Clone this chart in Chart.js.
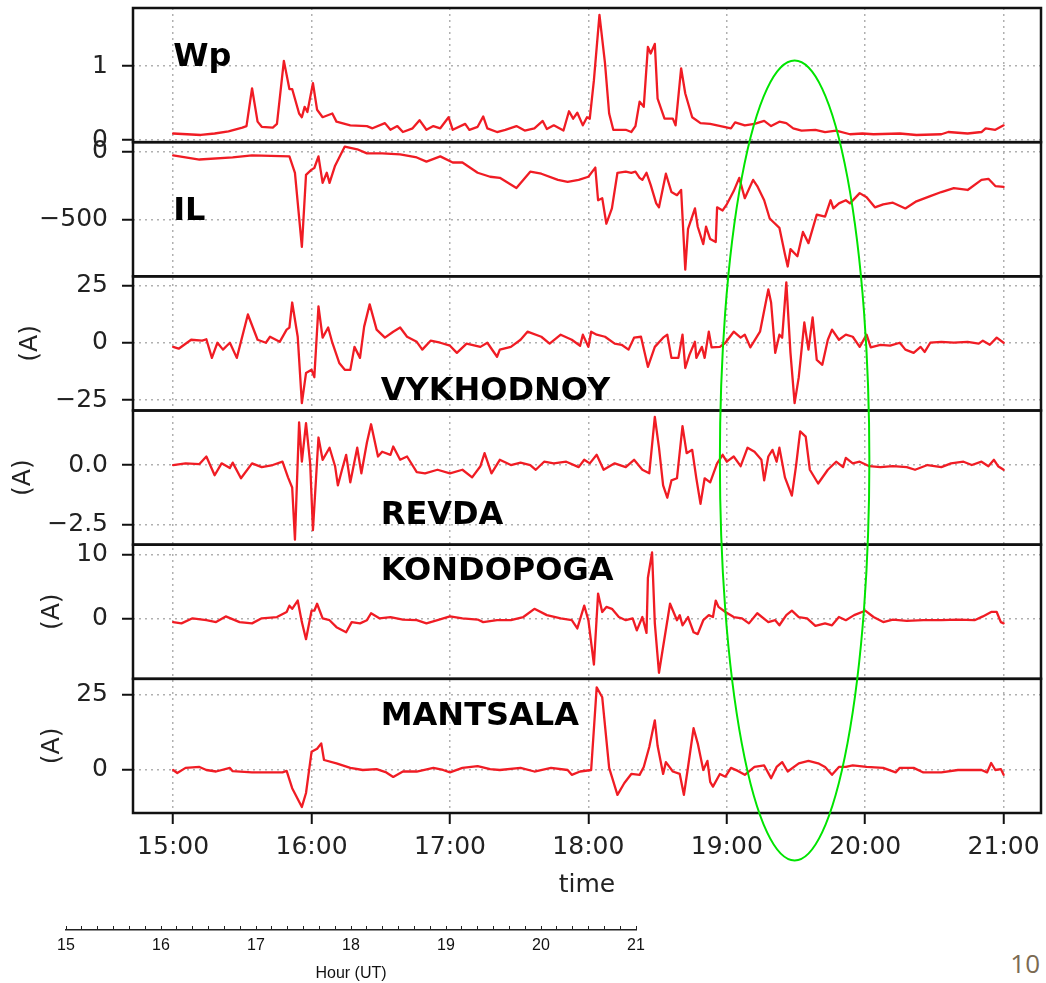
<!DOCTYPE html>
<html>
<head>
<meta charset="utf-8">
<script src="https://cdn.jsdelivr.net/npm/chart.js@4.4.1/dist/chart.umd.min.js"></script>
<style>
  html, body { margin: 0; padding: 0; background: #fff; }
  #wrap { position: relative; width: 1046px; height: 983px; overflow: hidden; }
  .box { position: absolute; left: 0; }
  #page { position: absolute; right: 6px; top: 950px; font: 26px "Open Sans"; line-height: 26px; color: #7b6a52; }
</style>
</head>
<body>
<div id="wrap">
  <div class="box" style="top:0;width:1046px;height:910px"><canvas id="main"></canvas></div>
  <div class="box" style="top:918px;width:700px;height:65px"><canvas id="hours"></canvas></div>
  <div id="page">10</div>
</div>
<script>
// time in decimal hours UT, value per station
const wp = [[15.00,0.09],[15.10,0.08],[15.20,0.07],[15.30,0.09],[15.40,0.12],[15.50,0.17],[15.53,0.19],[15.57,0.70],[15.61,0.25],[15.64,0.18],[15.72,0.17],[15.75,0.22],[15.80,1.07],[15.84,0.69],[15.86,0.69],[15.91,0.36],[15.93,0.31],[15.95,0.45],[15.97,0.38],[16.01,0.77],[16.04,0.41],[16.08,0.31],[16.15,0.36],[16.18,0.25],[16.28,0.20],[16.40,0.19],[16.44,0.16],[16.53,0.23],[16.57,0.14],[16.62,0.19],[16.66,0.11],[16.73,0.16],[16.78,0.27],[16.83,0.14],[16.88,0.19],[16.93,0.16],[16.99,0.31],[17.02,0.14],[17.11,0.22],[17.14,0.14],[17.20,0.18],[17.24,0.32],[17.27,0.16],[17.34,0.11],[17.40,0.14],[17.48,0.19],[17.54,0.13],[17.61,0.16],[17.67,0.26],[17.70,0.15],[17.75,0.20],[17.82,0.13],[17.86,0.39],[17.89,0.29],[17.92,0.37],[17.96,0.20],[17.99,0.31],[18.01,0.29],[18.04,0.81],[18.08,1.69],[18.12,1.04],[18.15,0.36],[18.18,0.14],[18.27,0.14],[18.31,0.11],[18.34,0.19],[18.37,0.52],[18.40,0.45],[18.43,1.26],[18.45,1.17],[18.48,1.30],[18.50,0.56],[18.55,0.29],[18.61,0.29],[18.63,0.20],[18.67,0.97],[18.70,0.63],[18.75,0.31],[18.81,0.23],[18.88,0.22],[18.98,0.18],[19.03,0.16],[19.06,0.24],[19.13,0.20],[19.20,0.22],[19.27,0.26],[19.32,0.19],[19.38,0.25],[19.43,0.23],[19.48,0.16],[19.54,0.13],[19.64,0.14],[19.71,0.11],[19.79,0.13],[19.89,0.08],[19.98,0.09],[20.06,0.08],[20.25,0.09],[20.37,0.07],[20.55,0.08],[20.60,0.11],[20.74,0.09],[20.84,0.11],[20.87,0.16],[20.94,0.14],[21.00,0.20]];

const il = [[15.00,-30],[15.19,-60],[15.43,-45],[15.57,-30],[15.84,-37],[15.88,-157],[15.93,-700],[15.96,-172],[16.00,-134],[16.02,-122],[16.05,-37],[16.08,-231],[16.11,-157],[16.13,-231],[16.17,-105],[16.20,-45],[16.24,35],[16.33,15],[16.40,-15],[16.51,-15],[16.64,-22],[16.76,-45],[16.83,-75],[16.93,-37],[17.02,-82],[17.09,-82],[17.20,-157],[17.29,-186],[17.36,-194],[17.48,-269],[17.58,-149],[17.66,-164],[17.78,-209],[17.85,-224],[17.93,-209],[18.00,-186],[18.05,-119],[18.07,-358],[18.10,-343],[18.13,-530],[18.17,-418],[18.21,-157],[18.27,-149],[18.31,-157],[18.34,-149],[18.37,-194],[18.39,-209],[18.42,-157],[18.45,-246],[18.49,-381],[18.51,-410],[18.56,-164],[18.60,-298],[18.64,-321],[18.67,-283],[18.70,-866],[18.72,-567],[18.77,-418],[18.79,-552],[18.83,-679],[18.85,-552],[18.88,-642],[18.92,-664],[18.93,-410],[18.97,-433],[19.00,-388],[19.05,-291],[19.09,-194],[19.13,-343],[19.19,-209],[19.22,-254],[19.27,-358],[19.31,-492],[19.38,-560],[19.42,-754],[19.44,-843],[19.46,-716],[19.51,-768],[19.55,-590],[19.59,-672],[19.65,-463],[19.71,-478],[19.75,-358],[19.77,-418],[19.81,-381],[19.86,-358],[19.89,-381],[19.96,-306],[20.01,-336],[20.07,-410],[20.13,-388],[20.20,-376],[20.29,-418],[20.37,-366],[20.47,-328],[20.55,-298],[20.64,-269],[20.74,-283],[20.84,-209],[20.89,-201],[20.94,-254],[21.00,-261]];

const vykhodnoy = [[15.00,-1.8],[15.04,-2.6],[15.13,1.3],[15.21,0.9],[15.24,1.5],[15.28,-6.6],[15.32,0],[15.36,-3],[15.41,0],[15.46,-6.6],[15.54,12.3],[15.61,1.3],[15.67,0],[15.70,2.6],[15.77,0.4],[15.82,5.7],[15.84,6.6],[15.86,17.5],[15.90,2.6],[15.93,-26.3],[15.96,-13.2],[16.00,-11.8],[16.02,-15],[16.05,15.8],[16.08,2.2],[16.12,6.6],[16.15,0],[16.20,-8.8],[16.24,-11.8],[16.28,-11.8],[16.31,-1.8],[16.35,-6.6],[16.38,7],[16.42,16.7],[16.47,5.7],[16.53,2.2],[16.59,4.8],[16.64,6.6],[16.69,2.6],[16.76,0.4],[16.80,-3],[16.86,0.9],[16.93,0],[17.00,-1.3],[17.05,-4.4],[17.12,-0.4],[17.22,-1.8],[17.27,0],[17.34,-6.1],[17.36,-3],[17.44,-1.8],[17.51,1.3],[17.56,4.8],[17.66,2.6],[17.72,-0.4],[17.80,3.5],[17.88,1.3],[17.94,-1.3],[17.96,3.5],[18.00,-1.8],[18.02,4.8],[18.06,3.5],[18.12,2.6],[18.19,-0.4],[18.24,-0.9],[18.29,-3],[18.33,2.2],[18.38,2.6],[18.43,-10.5],[18.48,-1.8],[18.54,2.2],[18.57,3.5],[18.60,-6.6],[18.65,-6.6],[18.68,3.5],[18.70,-11],[18.73,-5.3],[18.77,0.4],[18.78,-6.6],[18.82,-1.8],[18.84,-6.6],[18.87,4.8],[18.89,-2],[18.95,-1.8],[18.99,0],[19.05,4.8],[19.10,2.2],[19.13,3.5],[19.17,-2],[19.24,4.8],[19.30,23.2],[19.32,17.5],[19.35,-4.4],[19.38,3.5],[19.40,2.2],[19.43,26.3],[19.46,-4.4],[19.49,-26.3],[19.52,-15],[19.56,8.8],[19.59,-3],[19.62,11],[19.65,-7.5],[19.69,-9.6],[19.73,1.3],[19.76,5.7],[19.81,1.3],[19.86,3.5],[19.91,2.6],[19.96,-1.8],[20.01,3.5],[20.04,-2],[20.11,-0.9],[20.18,-1.3],[20.25,0],[20.29,-3],[20.35,-4.4],[20.40,-1.8],[20.43,-4],[20.47,0],[20.55,0.4],[20.64,0],[20.74,0.4],[20.82,-0.4],[20.85,0.9],[20.90,-0.9],[20.95,2.2],[21.00,0]];

const revda = [[15.00,0],[15.09,0.07],[15.19,0.04],[15.24,0.36],[15.30,-0.43],[15.35,0.07],[15.41,-0.13],[15.43,0.1],[15.49,-0.56],[15.57,0.07],[15.64,-0.09],[15.72,0],[15.79,0.14],[15.83,-0.52],[15.86,-0.95],[15.88,-3.15],[15.91,1.8],[15.93,0.14],[15.96,1.77],[15.99,0.07],[16.01,-2.75],[16.05,1.16],[16.08,0.22],[16.13,0.73],[16.17,-0.05],[16.19,-0.86],[16.22,-0.2],[16.25,0.43],[16.28,-0.73],[16.33,0.73],[16.36,-0.35],[16.40,0.95],[16.43,1.72],[16.48,0.36],[16.51,0.56],[16.57,0.43],[16.59,0.78],[16.64,0.22],[16.69,0.36],[16.76,-0.3],[16.82,-0.35],[16.91,-0.2],[17.00,-0.35],[17.09,-0.2],[17.16,-0.52],[17.22,-0.05],[17.25,0.5],[17.30,-0.35],[17.36,0.22],[17.44,0],[17.51,0.1],[17.58,0],[17.62,-0.2],[17.68,0.14],[17.75,0.07],[17.84,0.14],[17.93,-0.09],[17.97,0.22],[18.01,0.07],[18.06,0.43],[18.11,-0.2],[18.19,0.07],[18.27,-0.09],[18.33,0.22],[18.39,-0.2],[18.44,-0.35],[18.48,2.03],[18.51,0.73],[18.54,-0.86],[18.57,-1.38],[18.60,-0.65],[18.64,-0.56],[18.68,1.64],[18.71,0.5],[18.75,0.64],[18.78,-0.56],[18.81,-1.64],[18.84,-0.56],[18.88,-0.73],[18.93,0.07],[18.97,0.43],[19.00,0.14],[19.05,0.36],[19.10,-0.05],[19.15,0.73],[19.20,0.56],[19.25,0.22],[19.27,-0.65],[19.30,0.36],[19.33,0.64],[19.36,0.14],[19.38,0.73],[19.42,-0.52],[19.47,-1.29],[19.50,-0.05],[19.53,1.42],[19.57,1.2],[19.60,-0.2],[19.66,-0.78],[19.73,-0.2],[19.79,0.14],[19.84,-0.09],[19.86,0.3],[19.91,0.07],[19.96,0.14],[20.03,-0.05],[20.11,-0.09],[20.20,-0.05],[20.30,-0.09],[20.36,-0.2],[20.45,0],[20.55,-0.09],[20.62,0.07],[20.71,0.14],[20.77,0],[20.84,0.14],[20.89,-0.05],[20.93,0.22],[20.96,-0.05],[21.00,-0.2]];

const kondopoga = [[15.00,-0.6],[15.06,-0.8],[15.14,0],[15.24,-0.3],[15.31,-0.6],[15.38,0.3],[15.48,-0.6],[15.57,-0.8],[15.64,0],[15.75,0.2],[15.82,1],[15.84,2],[15.86,1.5],[15.90,2.8],[15.93,-0.6],[15.96,-3.3],[16.00,1.2],[16.02,1.2],[16.04,2.3],[16.08,0],[16.13,-0.3],[16.18,-1.4],[16.25,-2.2],[16.29,-0.6],[16.35,-0.8],[16.40,-0.3],[16.43,0.8],[16.49,0],[16.57,0.2],[16.66,-0.2],[16.76,-0.3],[16.83,-0.8],[16.91,-0.3],[17.00,0.3],[17.09,0],[17.20,-0.2],[17.24,-0.6],[17.34,-0.3],[17.44,-0.3],[17.53,0.2],[17.61,1.5],[17.70,0.5],[17.80,0],[17.88,-0.3],[17.92,-1.6],[17.97,2],[18.00,-0.3],[18.04,-7.3],[18.07,3.9],[18.10,1],[18.13,1.8],[18.17,1.5],[18.22,0.2],[18.27,-0.3],[18.32,0],[18.35,-1.9],[18.39,0.2],[18.42,-2.3],[18.43,6.4],[18.46,10.4],[18.48,-0.8],[18.51,-8.6],[18.54,-4.5],[18.59,2.3],[18.64,-0.3],[18.66,0.5],[18.68,-1.1],[18.72,0.2],[18.76,-2.2],[18.79,-2.5],[18.83,-0.3],[18.87,0.5],[18.90,0.2],[18.92,2.8],[18.94,1.8],[18.99,1],[19.05,0.2],[19.11,0],[19.16,-0.8],[19.22,0.8],[19.30,-0.6],[19.35,-0.3],[19.38,-1.1],[19.43,0.5],[19.47,1.2],[19.52,0.2],[19.58,0],[19.64,-1.2],[19.71,-0.8],[19.76,-1.1],[19.81,0.2],[19.86,-0.3],[19.92,0.5],[20.00,1.2],[20.06,0.2],[20.13,-0.6],[20.20,-0.2],[20.30,-0.4],[20.42,-0.3],[20.55,-0.3],[20.67,-0.2],[20.79,-0.3],[20.85,0.3],[20.91,1],[20.95,1],[20.98,-0.6],[21.00,-0.8]];

const mantsala = [[15.00,0],[15.03,-1],[15.09,0.7],[15.19,1],[15.24,0],[15.31,-0.5],[15.41,0.7],[15.43,-0.4],[15.57,-0.8],[15.79,-0.8],[15.82,-0.3],[15.86,-6],[15.93,-12.2],[15.96,-7.6],[16.00,6],[16.04,7],[16.07,8.8],[16.09,3.3],[16.18,2.2],[16.28,0.7],[16.37,0],[16.47,0.3],[16.54,-0.8],[16.59,-2.3],[16.66,-0.5],[16.76,-0.5],[16.88,0.7],[16.95,0],[17.00,-0.8],[17.09,0.7],[17.20,1.3],[17.29,0.3],[17.36,0],[17.51,0.7],[17.61,-0.5],[17.73,0.7],[17.85,0],[17.88,-1.6],[17.94,-0.5],[18.02,0],[18.06,27.3],[18.10,24],[18.15,0.7],[18.21,-8.2],[18.26,-4.3],[18.31,-1.3],[18.37,-1.6],[18.40,1],[18.44,7.6],[18.48,16.4],[18.50,8],[18.54,-1.3],[18.56,2.6],[18.61,-0.5],[18.66,-1.3],[18.69,-8.2],[18.72,1],[18.76,13.8],[18.79,8.8],[18.83,0],[18.86,3],[18.88,-3.9],[18.90,-5.5],[18.95,-1.3],[18.99,-2.2],[19.03,0.7],[19.08,-0.3],[19.13,-1.6],[19.20,1],[19.27,1.5],[19.32,-2.7],[19.36,1],[19.40,2.6],[19.44,-0.5],[19.52,2.2],[19.59,3],[19.66,2.2],[19.71,1],[19.76,-1.6],[19.81,1],[19.86,1],[19.91,1.5],[20.01,1],[20.13,0.7],[20.22,-0.8],[20.25,0.7],[20.35,0.7],[20.42,-0.8],[20.55,-0.8],[20.67,0],[20.77,0],[20.84,0],[20.88,-0.8],[20.91,2.3],[20.94,0],[20.98,0.3],[21.00,-1.6]];

// tick values
const hourTicks = [15, 16, 17, 18, 19, 20, 21];
const hourLabels = ['15:00', '16:00', '17:00', '18:00', '19:00', '20:00', '21:00'];
const wpTicks = [0, 1];
const ilTicks = [-500, 0];
const vykTicks = [-25, 0, 25];
const revTicks = [-2.5, 0];
const konTicks = [0, 10];
const manTicks = [0, 25];
const utHours = [15, 16, 17, 18, 19, 20, 21];

const RED = '#f01c24';
const tickFont = { family: 'DejaVu Sans', size: 25 };
const minus = s => s.replace('-', '\u2212');

// one entry per stacked panel, top to bottom
const panels = [
  { id: 'wp',  name: 'Wp',        data: wp,        ticks: wpTicks,  min: -0.027, max: 1.784, dec: 0, at: [15.0, 1.0],  unit: null },
  { id: 'il',  name: 'IL',        data: il,        ticks: ilTicks,  min: -915,   max: 67,    dec: 0, at: [15.0, -500], unit: null },
  { id: 'vyk', name: 'VYKHODNOY', data: vykhodnoy, ticks: vykTicks, min: -29.5,  max: 28.9,  dec: 0, at: [16.5, -25],  unit: 15 },
  { id: 'rev', name: 'REVDA',     data: revda,     ticks: revTicks, min: -3.36,  max: 2.30,  dec: 1, at: [16.5, -2.5], unit: 8.5 },
  { id: 'kon', name: 'KONDOPOGA', data: kondopoga, ticks: konTicks, min: -9.56,  max: 11.63, dec: 0, at: [16.5, 6],    unit: 37 },
  { id: 'man', name: 'MANTSALA',  data: mantsala,  ticks: manTicks, min: -14.2,  max: 30.1,  dec: 0, at: [16.5, 15],   unit: 37 }
];

const gridOpts = { color: '#b0b0b0', lineWidth: 1.5, tickColor: '#111', tickWidth: 2, tickLength: 11 };

const scales = {
  x: {
    type: 'linear', min: 14.71, max: 21.27,
    afterBuildTicks: s => { s.ticks = hourTicks.map(v => ({ value: v })); },
    afterFit: s => { s.height = 97; s.paddingLeft = 0; s.paddingRight = 0; },
    ticks: { autoSkip: false, maxRotation: 0, padding: 8, color: '#222', font: tickFont,
      callback: v => hourLabels[hourTicks.indexOf(v)] },
    grid: gridOpts,
    border: { display: false, dash: [2, 4] },
    title: { display: true, text: 'time', color: '#222', font: tickFont, padding: { top: 0, bottom: 10 } }
  }
};

panels.forEach((p, i) => {
  scales[p.id] = {
    type: 'linear', position: 'left', stack: 'panels', stackWeight: 1, weight: panels.length - i,
    min: p.min, max: p.max,
    afterBuildTicks: s => { s.ticks = p.ticks.map(v => ({ value: v })); },
    afterFit: s => { s.width = 133; s.paddingTop = 0; s.paddingBottom = 0; },
    ticks: { autoSkip: false, padding: 14, color: '#222', font: tickFont,
      callback: v => minus(Number(v).toFixed(p.dec)) },
    grid: gridOpts,
    border: { display: false, dash: [2, 4] },
    title: { display: p.unit !== null, text: '(A)', color: '#222', font: tickFont,
      padding: { top: p.unit || 0, bottom: 0 } }
  };
});

// panel frames, station names and the highlighted interval
const panelDecor = {
  id: 'panelDecor',
  afterDraw(chart) {
    const { ctx, chartArea: a, scales: sc } = chart;
    ctx.save();
    ctx.strokeStyle = '#111';
    ctx.lineWidth = 2.5;
    panels.forEach(p => {
      const s = sc[p.id];
      ctx.strokeRect(a.left, s.top, a.right - a.left, s.bottom - s.top);
    });

    ctx.fillStyle = '#000';
    ctx.font = 'bold 32px "DejaVu Sans"';
    ctx.textBaseline = 'alphabetic';
    panels.forEach(p => {
      ctx.fillText(p.name, sc.x.getPixelForValue(p.at[0]), sc[p.id].getPixelForValue(p.at[1]));
    });

    const cx = sc.x.getPixelForValue(19.49);
    const rx = sc.x.getPixelForValue(20.03) - cx;
    const cy = (a.top + a.bottom) / 2 + 50;
    ctx.strokeStyle = '#00e400';
    ctx.lineWidth = 2;
    ctx.beginPath();
    ctx.ellipse(cx, cy, rx, 400, 0, 0, Math.PI * 2);
    ctx.stroke();
    ctx.restore();
  }
};

new Chart(document.getElementById('main'), {
  type: 'line',
  data: {
    datasets: panels.map(p => ({
      label: p.name,
      data: p.data.map(([x, y]) => ({ x, y })),
      xAxisID: 'x',
      yAxisID: p.id,
      borderColor: RED,
      borderWidth: 2.3,
      borderJoinStyle: 'round',
      borderCapStyle: 'round',
      pointRadius: 0,
      tension: 0,
      fill: false
    }))
  },
  plugins: [panelDecor],
  options: {
    animation: false,
    responsive: true,
    maintainAspectRatio: false,
    layout: { padding: { left: 0, right: 5, top: 8, bottom: 0 } },
    plugins: { legend: { display: false }, tooltip: { enabled: false } },
    scales: scales
  }
});

// separate UT hour scale under the figure
new Chart(document.getElementById('hours'), {
  type: 'line',
  data: { datasets: [] },
  options: {
    animation: false,
    responsive: true,
    maintainAspectRatio: false,
    layout: { padding: { left: 66, right: 64, top: 8, bottom: 0 } },
    plugins: { legend: { display: false }, tooltip: { enabled: false } },
    scales: {
      y: { display: false },
      x: {
        type: 'linear', min: 15, max: 21,
        afterFit: s => { s.height = 53; s.paddingLeft = 0; s.paddingRight = 0; },
        ticks: { stepSize: 1 / 6, autoSkip: false, maxRotation: 0, padding: 6, color: '#111',
          font: { family: 'Liberation Sans', size: 16 },
          callback: v => {
            const r = Math.round(v);
            return Math.abs(v - r) < 1e-6 && utHours.includes(r) ? String(r) : '';
          } },
        grid: { color: '#222', lineWidth: 1, drawTicks: false, drawOnChartArea: true },
        border: { display: true, color: '#222', width: 1.5 },
        title: { display: true, text: 'Hour (UT)', color: '#111',
          font: { family: 'Liberation Sans', size: 16 }, padding: { top: 0, bottom: 0 } }
      }
    }
  }
});
</script>
</body>
</html>
